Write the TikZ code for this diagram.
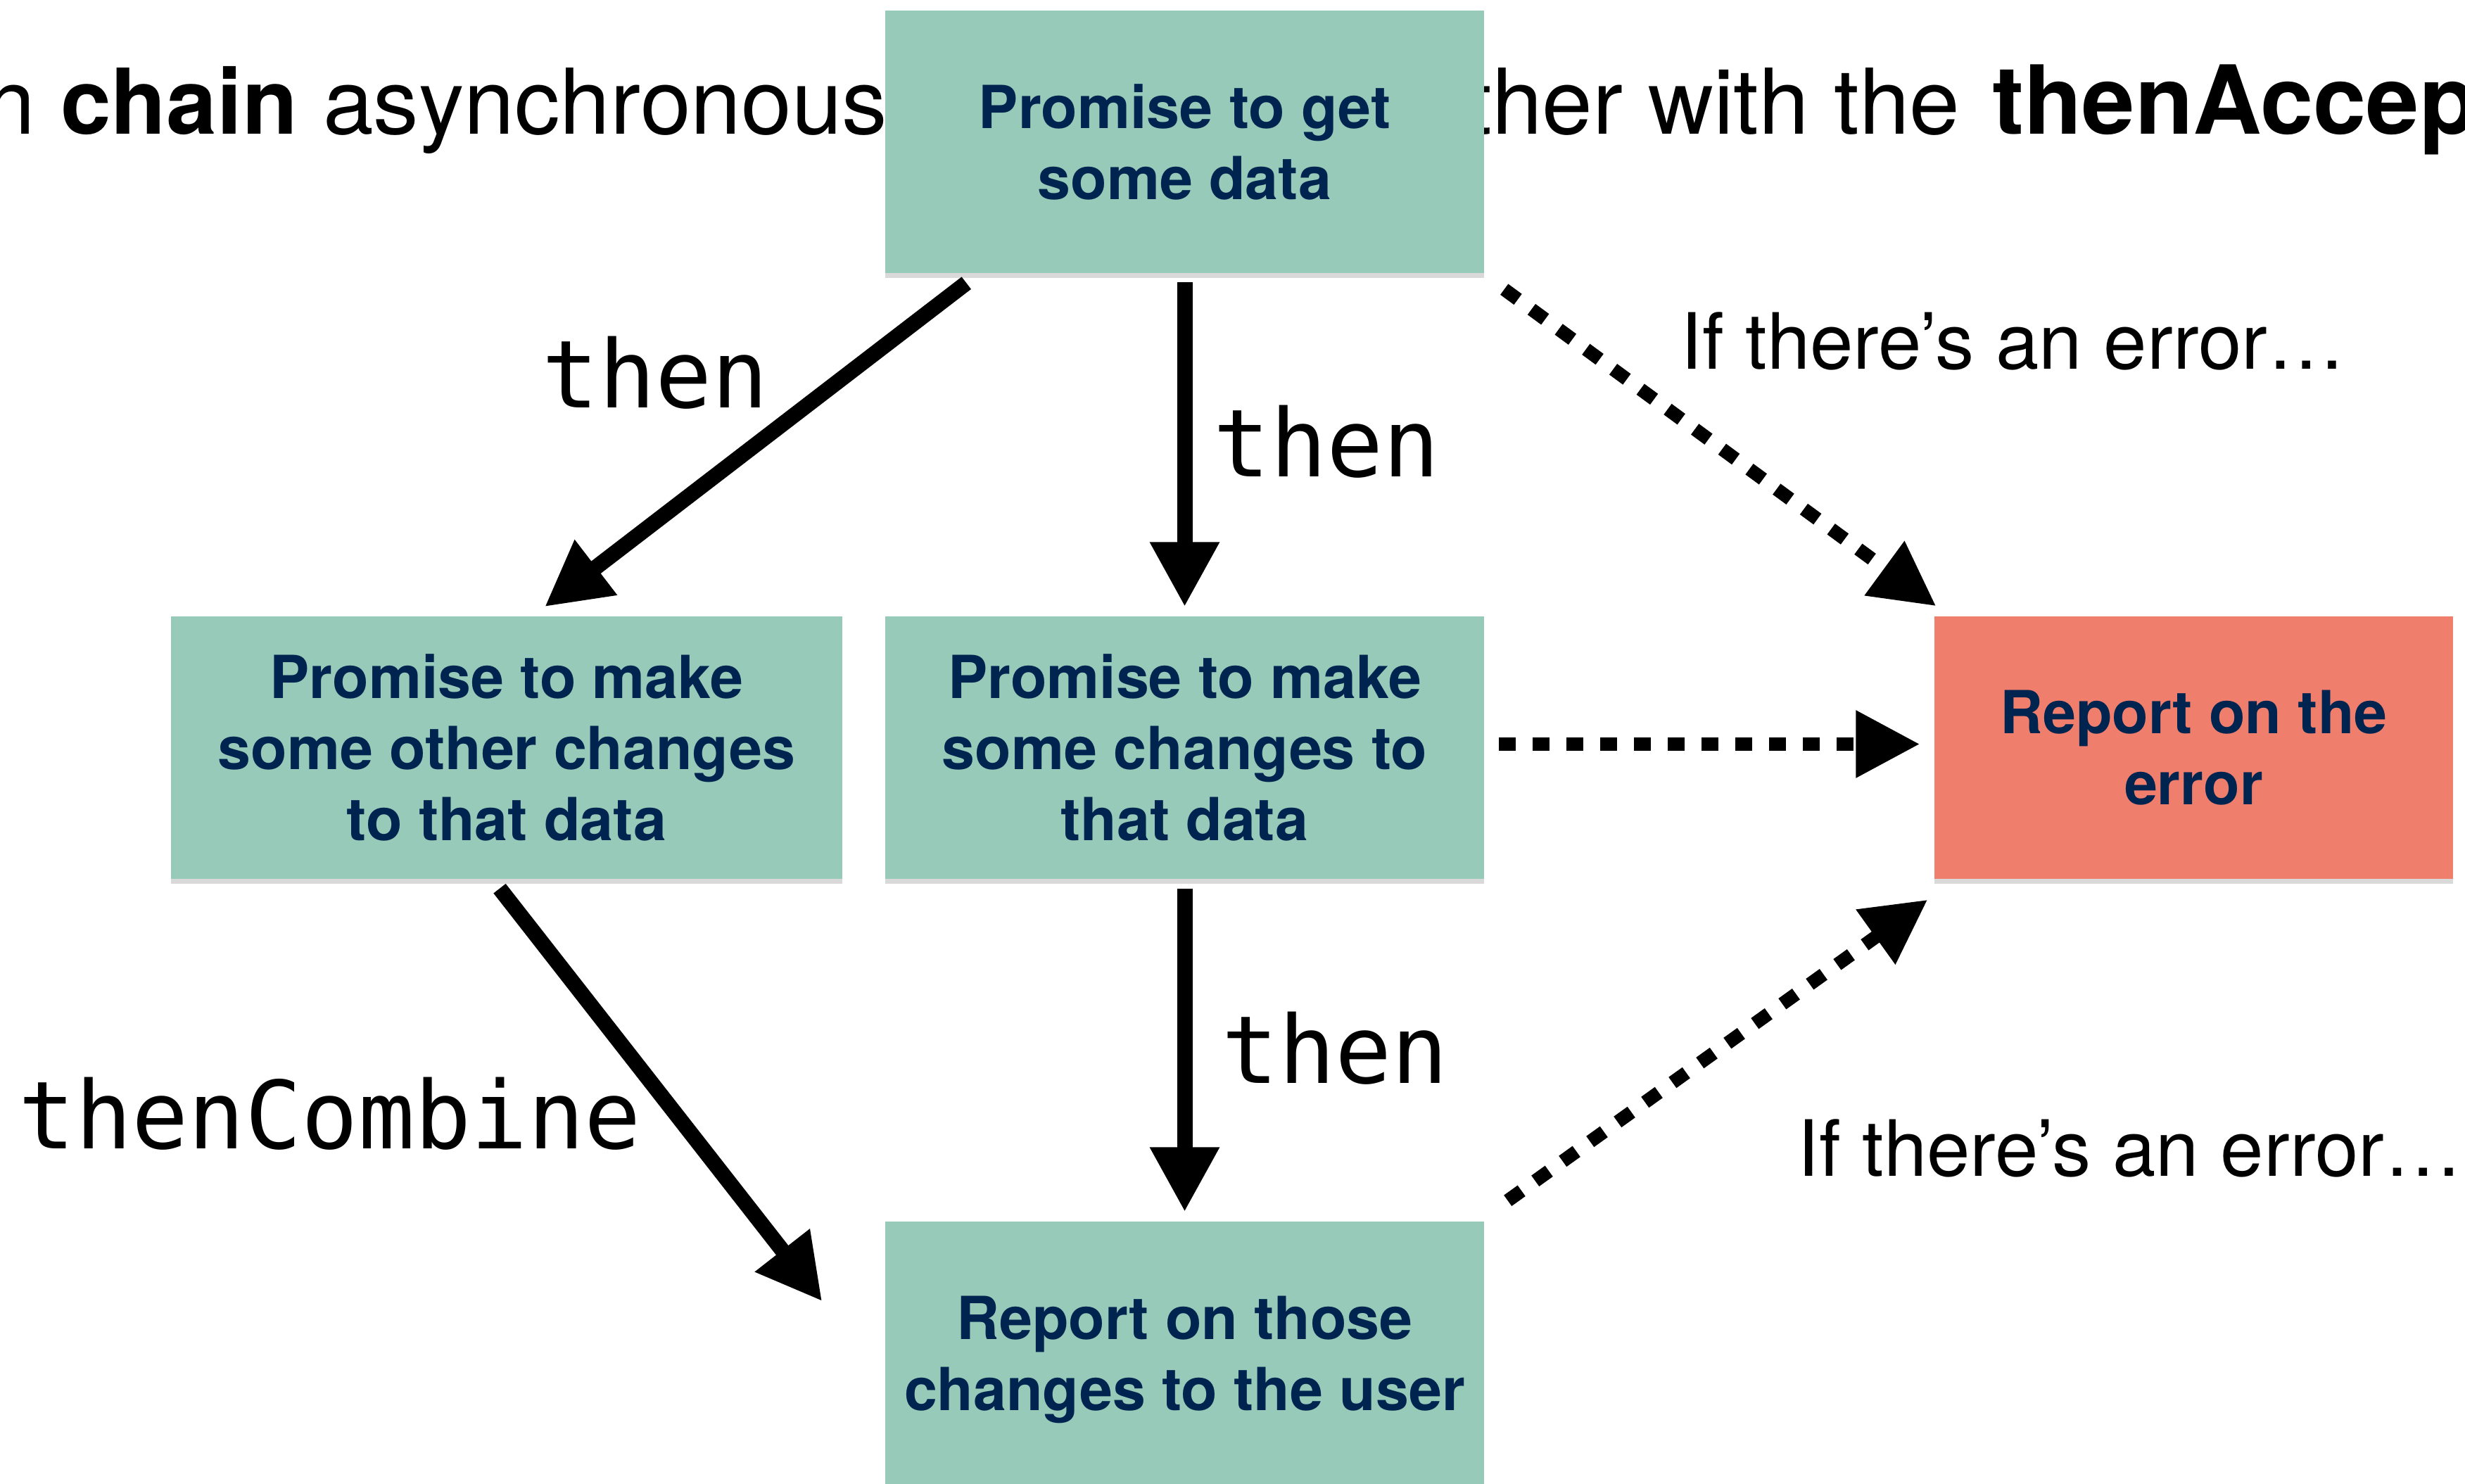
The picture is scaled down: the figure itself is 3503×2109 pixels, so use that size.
\documentclass[tikz,border=0pt]{standalone}
\usepackage{fontspec}
\setmainfont{TeX Gyre Heros}
\newfontfamily\monof{DejaVu Sans Mono}
\usetikzlibrary{arrows.meta,shadows}

\definecolor{boxteal}{RGB}{151,202,184}
\definecolor{boxred}{RGB}{239,126,108}
\definecolor{boxnavy}{RGB}{0,36,80}

\tikzset{
  box/.style={rectangle, inner sep=0pt, align=center, text=boxnavy,
    font=\fontsize{24}{28.7}\selectfont\bfseries,
    minimum height=37.3mm,
    drop shadow={shadow xshift=0mm, shadow yshift=-0.7mm, opacity=0.3}},
  okbox/.style={box, fill=boxteal},
  errbox/.style={box, fill=boxred},
  solidarrow/.style={line width=2.2mm,
    -{Triangle[length=9.2mm,width=9.3mm]}},
  errarrow/.style={line width=1.9mm, dash pattern=on 2.4mm off 2.4mm,
    -{Triangle[length=9.1mm,width=9.1mm]}},
  codelabel/.style={inner sep=0pt, anchor=base west,
    font=\monof\fontsize{38}{44}\selectfont},
  notelabel/.style={inner sep=0pt, anchor=base west,
    font=\fontsize{31.4}{36}\selectfont},
  titletext/.style={inner sep=0pt, font=\fontsize{36.7}{42}\selectfont}
}

\begin{document}
\begin{tikzpicture}[x=0.1mm, y=-0.1mm]
  \useasboundingbox (0,0) rectangle (3503,2109);
  \clip (0,0) rectangle (3503,2109);

  % heading line running behind the first box
  \node[titletext, anchor=base east] (headl) at (1262,191)
    {n \textbf{chain} asynchronous};
  \node[titletext, anchor=base west] (headr) at (2084,191)
    {ther with the \hspace{1mm}{\fontsize{38.5}{42}\selectfont\bfseries thenAccep}};

  % boxes
  \node[okbox, minimum width=85.1mm] (get) at (1683.5,202)
    {Promise to get\\some data};
  \node[okbox, minimum width=95.4mm] (other) at (720,1062.5)
    {Promise to make\\some other changes\\to that data};
  \node[okbox, minimum width=85.1mm] (change) at (1683.5,1062.5)
    {Promise to make\\some changes to\\that data};
  \node[errbox, minimum width=73.7mm] (err) at (3117.5,1062.5)
    {Report on the\\error};
  \node[okbox, minimum width=85.1mm, minimum height=39.3mm] (report)
    at (1683.5,1932.5) {Report on those\\changes to the user};

  % normal flow
  \draw[solidarrow] ([shift={(116,13)}]get.south west)
    -- ([shift={(54,-13)}]other.north);
  \draw[solidarrow] ([shift={(0,12)}]get.south)
    -- ([shift={(0,-13)}]change.north);
  \draw[solidarrow] ([shift={(0,13)}]change.south)
    -- ([shift={(0,-13)}]report.north);
  \draw[solidarrow] ([shift={(-10,13)}]other.south)
    -- ([shift={(-89,114)}]report.north west);

  % error flow
  \draw[errarrow] ([shift={(28,22)}]get.south east)
    -- ([shift={(3,-14)}]err.north west);
  \draw[errarrow] ([shift={(20,-5)}]change.east)
    -- ([shift={(-20,-5)}]err.west);
  \draw[errarrow] ([shift={(33,-29)}]report.north east)
    -- ([shift={(-9,29)}]err.south west);

  % labels
  \node[codelabel] (lthen1) at (770,580) {then};
  \node[codelabel] (lthen2) at (1724,678) {then};
  \node[codelabel] (lthen3) at (1736,1539) {then};
  \node[codelabel] (lcombine) at (26,1632) {thenCombine};
  \node[notelabel] (lerr1) at (2388,525) {If there’s an error…};
  \node[notelabel] (lerr2) at (2554,1671) {If there’s an error…};
\end{tikzpicture}
\end{document}
